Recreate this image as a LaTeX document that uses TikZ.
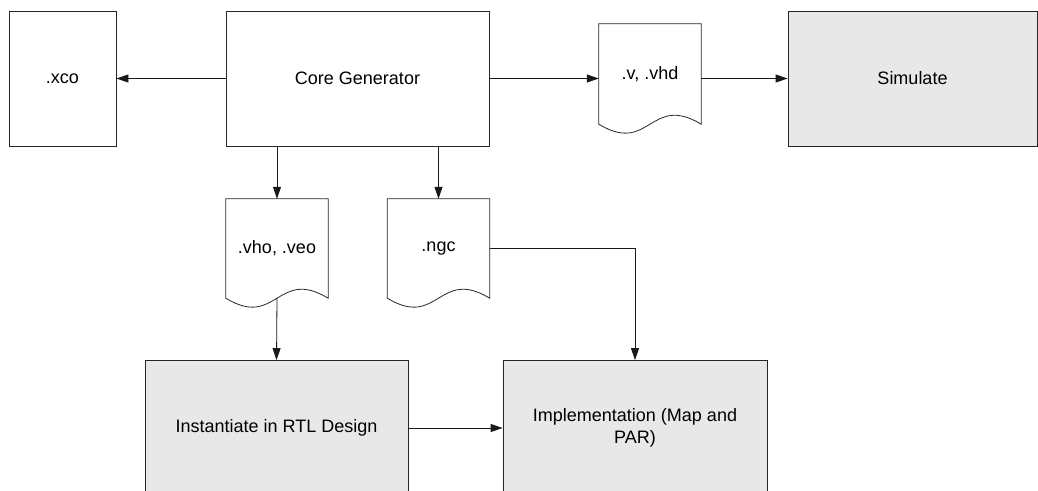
\documentclass[tikz,border=0pt]{standalone}
\usepackage{fontspec}
\setmainfont{Liberation Sans}
\usetikzlibrary{arrows.meta,calc}

\begin{document}
\begin{tikzpicture}[x=1pt,y=-1pt,
		font=\fontsize{18}{22}\selectfont,
		caja/.style={draw=black!85,line width=0.8pt,minimum width=#1,minimum height=135pt,inner sep=0pt},
		proceso/.style={caja=#1,fill=black!9,align=center},
		archivo/.style={minimum width=102pt,minimum height=#1,inner sep=0pt},
		flecha/.style={draw=black!90,line width=0.8pt,-{Triangle[length=12pt,width=8pt]}}]
			% Marco de la figura (las cajas de abajo quedan cortadas)
			\useasboundingbox (0,0) rectangle (1038,490);
			\clip (0,0) rectangle (1038,490);

			% Cajas de arriba
			\node[caja=107pt] (xco) at (62.5,78.5) {.xco};
			\node[caja=263pt] (core) at (357.5,78.5) {Core Generator};
			\node[proceso=249pt] (sim) at (912.5,78.5) {Simulate};

			% Archivos generados
			\node[archivo=100pt] (vhd) at (650,74) {.v, .vhd};
			\node[archivo=99pt] (vho) at (277,248.5) {.vho, .veo};
			\node[archivo=99pt] (ngc) at (438.5,248.5) {.ngc};

			% Dibujar los archivos con el borde ondulado
			\foreach \d in {vhd,vho,ngc}
				\draw[draw=black!85,line width=0.8pt] (\d.north west) -- (\d.north east) -- (\d.south east)
					.. controls ($(\d.south)+(0,-31)$) and ($(\d.south)+(0,31)$) .. (\d.south west) -- cycle;

			% Cajas de abajo
			\node[proceso=263pt] (inst) at (276.5,428) {Instantiate in RTL Design};
			\node[proceso=264pt] (impl) at (635,428) {Implementation (Map and\\PAR)};

			% Dibujar las flechas
			\draw[flecha] (core.west) -- (xco.east);
			\draw[flecha] (core.east) -- (core.east -| vhd.west);
			\draw[flecha] (vhd.east |- sim.west) -- (sim.west);
			\draw[flecha] (core.south -| vho.north) -- (vho.north);
			\draw[flecha] (core.south -| ngc.north) -- (ngc.north);
			\draw[flecha] (vho.south) -- (inst.north);
			\draw[flecha] (ngc.east) -| (impl.north);
			\draw[flecha] (inst.east) -- (impl.west);
		\end{tikzpicture}
\end{document}
